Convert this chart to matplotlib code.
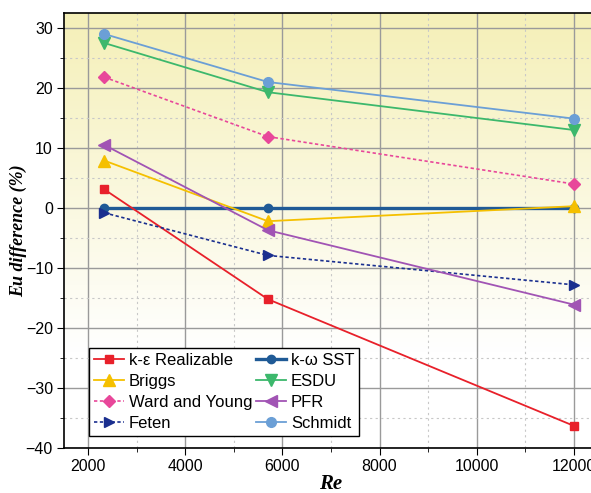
import numpy as np
import matplotlib
matplotlib.use("Agg")
import matplotlib.pyplot as plt
from matplotlib.ticker import MultipleLocator

plt.rcParams['font.family'] = ['Liberation Sans', 'DejaVu Sans']

re = [2330, 5700, 12000]

k_eps = [3.1, -15.2, -36.3]
k_omega = [0.0, 0.0, 0.0]
briggs = [7.9, -2.2, 0.3]
esdu = [27.5, 19.3, 13.0]
ward_young = [21.8, 11.9, 4.0]
pfr = [10.5, -3.7, -16.1]
feten = [-0.8, -7.9, -12.8]
schmidt = [29.0, 21.0, 14.9]

fig = plt.figure(figsize=(5.91, 4.93), dpi=100)
ax = fig.add_axes([64/591, 45/493, 534/591, 435/493])

# yellow at the top fading to white lower down
grad = np.linspace(0, 1, 256).reshape(-1, 1)
top = np.array([0.96, 0.94, 0.72])
bot = np.array([1.0, 1.0, 1.0])
frac = np.clip(grad / 0.78, 0, 1)
img = top * (1 - frac) + bot * frac
ax.imshow(img.reshape(256, 1, 3), extent=[1500, 12500, -40, 32.5], aspect='auto',
          origin='upper', zorder=0)
ax.set_xlim(1500, 12500)
ax.set_ylim(-40, 32.5)

ax.xaxis.set_major_locator(MultipleLocator(2000))
ax.xaxis.set_minor_locator(MultipleLocator(1000))
ax.yaxis.set_major_locator(MultipleLocator(10))
ax.yaxis.set_minor_locator(MultipleLocator(5))
ax.grid(which='major', color='#9a9a9a', lw=1.0, zorder=1)
ax.grid(which='minor', color='#c8c8c8', lw=0.8, ls=(0, (2, 3)), zorder=1)
ax.set_axisbelow(True)

ax.plot(re, k_eps, color='#e8202a', lw=1.3, marker='s', ms=6, label='k-ε Realizable', zorder=3)
ax.plot(re, briggs, color='#f5c000', lw=1.3, marker='^', ms=8, label='Briggs', zorder=3)
ax.plot(re, ward_young, color='#e8479a', lw=1.2, ls=(0, (2, 1.5)), marker='D', ms=6,
        label='Ward and Young', zorder=3)
ax.plot(re, feten, color='#1a2f8f', lw=1.2, ls=(0, (2, 1.5)), marker='>', ms=7,
        label='Feten', zorder=3)
ax.plot(re, k_omega, color='#1f5a96', lw=2.4, marker='o', ms=6, label='k-ω SST', zorder=2.5)
ax.plot(re, esdu, color='#3cb86c', lw=1.3, marker='v', ms=8, label='ESDU', zorder=3)
ax.plot(re, pfr, color='#a154b4', lw=1.3, marker='<', ms=8, label='PFR', zorder=3)
ax.plot(re, schmidt, color='#6b9fd6', lw=1.3, marker='o', ms=7, label='Schmidt', zorder=3)

ax.tick_params(which='major', direction='out', length=5, labelsize=11.5, colors='black', pad=3)
ax.tick_params(which='minor', direction='out', length=3)
for s in ax.spines.values():
    s.set_linewidth(1.2)

ax.set_xlabel('Re', fontsize=15, family='Liberation Serif', style='italic',
              weight='bold', labelpad=0)
ax.set_ylabel('Eu difference (%)', fontsize=13, family='Liberation Serif',
              style='italic', weight='bold', labelpad=-1)

leg = ax.legend(ncol=2, loc='lower left', bbox_to_anchor=(0.047, 0.028), fontsize=12,
                frameon=True, fancybox=False, edgecolor='black', framealpha=1,
                handlelength=1.8, handletextpad=0.3, columnspacing=0.2,
                labelspacing=0.35, borderpad=0.3, borderaxespad=0)
leg.get_frame().set_linewidth(1.0)

fig.savefig('out.png', dpi=100)
